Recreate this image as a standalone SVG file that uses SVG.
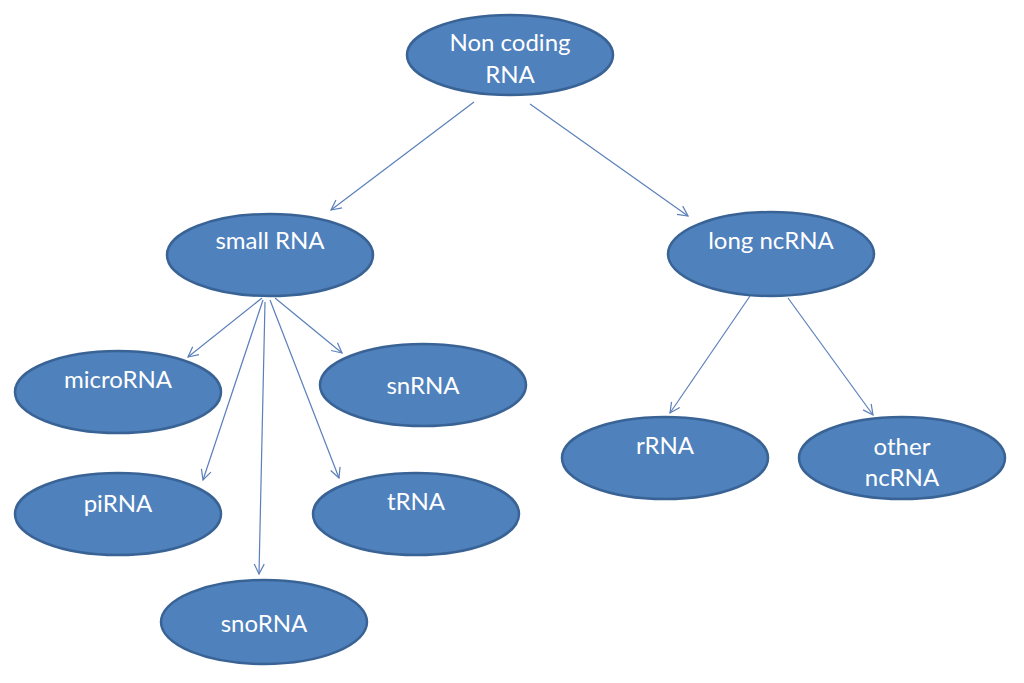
<svg xmlns="http://www.w3.org/2000/svg" width="1024" height="683" viewBox="0 0 1024 683">
<style>
.node ellipse{fill:#4F81BD;stroke:#3A6395;stroke-width:2.5}
.node text{fill:#fff;font-family:Lato,"Open Sans","Liberation Sans",sans-serif;font-size:24px;text-anchor:middle}
.edge{stroke:#5B7FB9;stroke-width:1.2;fill:none;marker-end:url(#arr)}
</style>
<defs>
<marker id="arr" viewBox="0 0 12 12" refX="11" refY="6" markerWidth="12" markerHeight="12" markerUnits="userSpaceOnUse" orient="auto">
<path d="M1,1 L11,6 L1,11" fill="none" stroke="#5B7FB9" stroke-width="1.2"/>
</marker>
</defs>
<rect width="1024" height="683" fill="#fff"/>
<g id="connectors">
<line class="edge" x1="474" y1="102" x2="331" y2="210"/>
<line class="edge" x1="530" y1="104" x2="688" y2="216"/>
<line class="edge" x1="262" y1="298" x2="188" y2="357"/>
<line class="edge" x1="263" y1="300" x2="203" y2="480"/>
<line class="edge" x1="265" y1="302" x2="259" y2="574"/>
<line class="edge" x1="270" y1="300" x2="339" y2="478"/>
<line class="edge" x1="275" y1="298" x2="342" y2="353"/>
<line class="edge" x1="750" y1="296" x2="670" y2="413"/>
<line class="edge" x1="788" y1="298" x2="873" y2="415"/>
</g>
<g id="noncoding" class="node"><ellipse cx="510" cy="55" rx="103" ry="40"/><text x="510" y="51">Non coding</text><text x="510" y="83">RNA</text></g>
<g id="small" class="node"><ellipse cx="270" cy="255" rx="103" ry="41"/><text x="270" y="249">small RNA</text></g>
<g id="long" class="node"><ellipse cx="771" cy="254" rx="103" ry="42"/><text x="771" y="249">long ncRNA</text></g>
<g id="microrna" class="node"><ellipse cx="118" cy="392" rx="103" ry="41"/><text x="118" y="388">microRNA</text></g>
<g id="snrna" class="node"><ellipse cx="423" cy="385" rx="103" ry="41"/><text x="423" y="394">snRNA</text></g>
<g id="pirna" class="node"><ellipse cx="118" cy="514" rx="103" ry="41"/><text x="118" y="512">piRNA</text></g>
<g id="trna" class="node"><ellipse cx="416" cy="514" rx="103" ry="41"/><text x="416" y="510">tRNA</text></g>
<g id="snorna" class="node"><ellipse cx="264" cy="622" rx="103" ry="42"/><text x="264" y="632">snoRNA</text></g>
<g id="rrna" class="node"><ellipse cx="665" cy="458" rx="103" ry="41"/><text x="665" y="454">rRNA</text></g>
<g id="other" class="node"><ellipse cx="902" cy="458" rx="103" ry="41"/><text x="902" y="455">other</text><text x="902" y="486">ncRNA</text></g>
</svg>
